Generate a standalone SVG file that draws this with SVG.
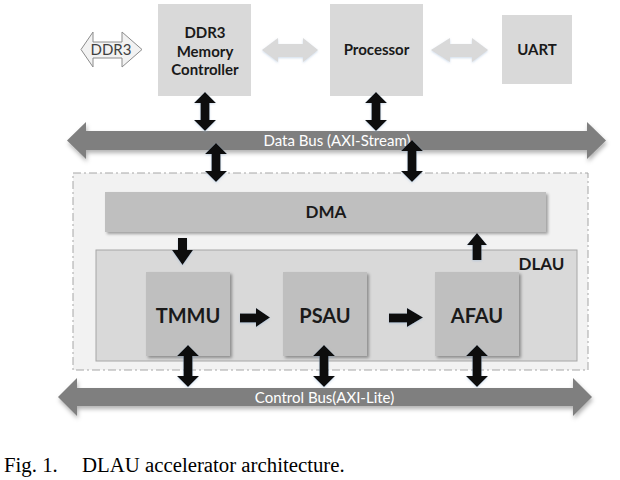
<svg xmlns="http://www.w3.org/2000/svg" width="620" height="480" viewBox="0 0 620 480">
<defs>
<filter id="sh" x="-10%" y="-10%" width="130%" height="140%">
<feDropShadow dx="2" dy="2" stdDeviation="1.5" flood-color="#000" flood-opacity="0.35"/>
</filter>
<filter id="bsh" x="-5%" y="-20%" width="110%" height="150%">
<feDropShadow dx="1" dy="3" stdDeviation="2" flood-color="#000" flood-opacity="0.3"/>
</filter>
<filter id="glow" x="-20%" y="-30%" width="140%" height="160%">
<feDropShadow dx="0" dy="1" stdDeviation="1" flood-color="#9db8d6" flood-opacity="0.5"/>
</filter>
</defs>
<style>
.top{fill:#d9d9d9}
.unit{fill:#bfbfbf;filter:url(#sh)}
.bus{fill:#7f7f7f;filter:url(#bsh)}
.blk{fill:#0d0d0d;filter:url(#glow)}
.lt{fill:#d9d9d9;filter:url(#glow)}
.lb{font-family:Lato,"Liberation Sans",sans-serif;font-weight:bold;fill:#1a1a1a;text-anchor:middle}
.bt{font-family:Lato,"Liberation Sans",sans-serif;font-size:15px;fill:#ffffff;text-anchor:middle}
.cap{font-family:"Liberation Serif",serif;font-size:20.8px;fill:#000}
</style>
<rect width="620" height="480" fill="#ffffff"/>

<g id="ddr3">
<polygon points="81,49.5 93,32 93,42 122,42 122,32 142,49.5 122,67 122,58 93,58 93,67" fill="#f2f2f2" stroke="#8c8c8c" stroke-width="1"/>
<text x="111" y="55" font-family="Lato,'Liberation Sans',sans-serif" font-size="15" fill="#404040" text-anchor="middle">DDR3</text>
</g>

<g id="mem-ctrl">
<rect class="top" x="158" y="4" width="93" height="92"/>
<text class="lb" font-size="15"><tspan x="205" y="38">DDR3</tspan><tspan x="205" y="56.5">Memory</tspan><tspan x="205" y="75">Controller</tspan></text>
</g>

<g id="processor">
<rect class="top" x="330" y="4" width="93" height="92"/>
<text class="lb" font-size="15" x="376.5" y="55">Processor</text>
</g>

<g id="uart">
<rect class="top" x="502" y="15" width="70" height="69"/>
<text class="lb" font-size="15" x="537" y="55">UART</text>
</g>

<g id="data-bus">
<polygon class="bus" points="67,140.5 86,122 86,131 587,131 587,122 606,140.5 587,159 587,150 86,150 86,159"/>
<text class="bt" x="337" y="146">Data Bus (AXI-Stream)</text>
</g>

<g id="accelerator">
<rect x="73" y="173" width="515" height="197" fill="#f2f2f2" stroke="#a6a6a6" stroke-width="1" stroke-dasharray="8 3 2 3"/>
</g>

<g id="dma">
<rect class="unit" x="105" y="192" width="441" height="40"/>
<text class="lb" font-size="17" x="326" y="218">DMA</text>
</g>

<g id="dlau">
<rect x="96" y="250" width="481" height="111" fill="#d9d9d9" stroke="#a6a6a6" stroke-width="1"/>
<text class="lb" font-size="17" x="541.5" y="270">DLAU</text>
</g>

<g id="tmmu">
<rect class="unit" x="146" y="272" width="84" height="84"/>
<text class="lb" font-size="20" x="188" y="323">TMMU</text>
</g>

<g id="psau">
<rect class="unit" x="283" y="272" width="84" height="84"/>
<text class="lb" font-size="20" x="325" y="323">PSAU</text>
</g>

<g id="afau">
<rect class="unit" x="435" y="272" width="84" height="84"/>
<text class="lb" font-size="20" x="477" y="323">AFAU</text>
</g>

<g id="control-bus">
<polygon class="bus" points="58,397 77,378 77,388 573,388 573,378 592,397 573,416 573,406 77,406 77,416"/>
<text class="bt" x="324.5" y="403">Control Bus(AXI-Lite)</text>
</g>

<g id="connectors">
<polygon class="lt" points="262,50 278,38 278,44 303,44 303,38 318,50 303,62 303,57 278,57 278,62"/>
<polygon class="lt" points="431,50 450,38 450,44 472,44 472,38 488,50 472,62 472,57 450,57 450,62"/>
<polygon class="blk" points="205,92 216,103 209.5,103 209.5,120 216,120 205,131 194,120 200.5,120 200.5,103 194,103"/>
<polygon class="blk" points="376,92 387,103 380.5,103 380.5,120 387,120 376,131 365,120 371.5,120 371.5,103 365,103"/>
<polygon class="blk" points="216,143 227,154 220.5,154 220.5,171 227,171 216,182 205,171 211.5,171 211.5,154 205,154"/>
<polygon class="blk" points="412,140 423,151 416.5,151 416.5,171 423,171 412,182 401,171 407.5,171 407.5,151 401,151"/>
<polygon class="blk" points="187,238 187,250 193,250 182.5,265 172,250 178,250 178,238"/>
<polygon class="blk" points="477,233 487,245 481.5,245 481.5,260 472.5,260 472.5,245 467,245"/>
<polygon class="blk" points="240,313.5 256,313.5 256,308 270,317.5 256,327 256,322.5 240,322.5"/>
<polygon class="blk" points="389,313.5 407,313.5 407,308 423,317.5 407,327 407,322.5 389,322.5"/>
<polygon class="blk" points="188,345 199,356 192.5,356 192.5,376 199,376 188,387 177,376 183.5,376 183.5,356 177,356"/>
<polygon class="blk" points="324,345 335,356 328.5,356 328.5,376 335,376 324,387 313,376 319.5,376 319.5,356 313,356"/>
<polygon class="blk" points="477,345 488,356 481.5,356 481.5,376 488,376 477,387 466,376 472.5,376 472.5,356 466,356"/>
</g>

<text class="cap" y="472"><tspan x="4">Fig. 1.</tspan><tspan x="82">DLAU accelerator architecture.</tspan></text>
</svg>
